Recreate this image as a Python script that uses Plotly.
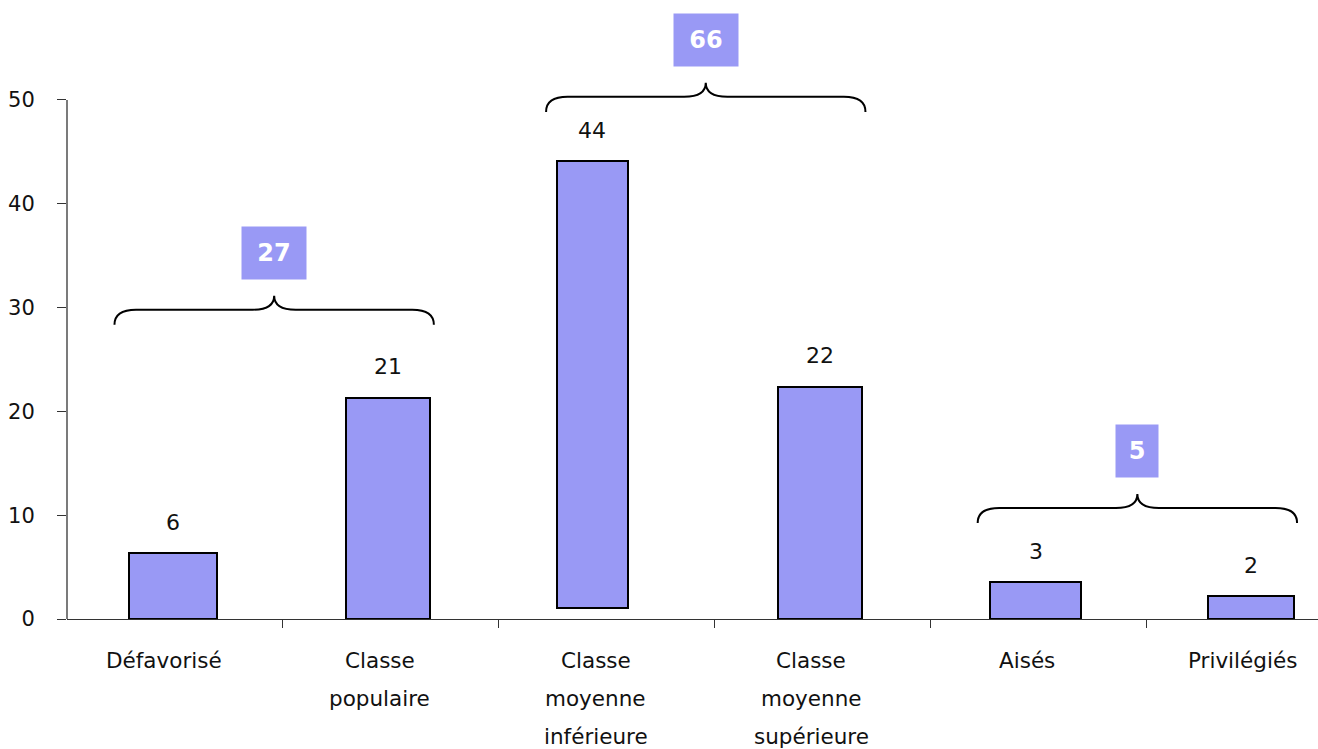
import plotly.graph_objects as go

# ---------------- data ----------------
categories = ["Défavorisé", "Classe populaire", "Classe moyenne inférieure",
              "Classe moyenne supérieure", "Aisés", "Privilégiés"]
bar_tops = [6.35, 21.3, 44.1, 22.35, 3.56, 2.2]
bar_bases = [0, 0, 1.06, 0, 0, 0]
value_labels = ["6", "21", "44", "22", "3", "2"]

group_first = [0, 2, 4]
group_last = [1, 3, 5]
group_totals = ["27", "66", "5"]

y_ticks = [0, 10, 20, 30, 40, 50]

# ---------------- style ----------------
BAR_COLOR = "#9999F5"
TEXT = "#111111"
AXIS = "#333333"
FONT = "DejaVu Sans"
bar_widths = [0.41, 0.39, 0.33, 0.39, 0.42, 0.40]
bar_offsets = [-0.214, -0.208, -0.231, -0.207, -0.221, -0.213]
brace_levels = [29.8, 50.3, 10.7]
brace_drop = 1.45   # ends below horizontal (data units)
brace_rise = 1.35   # tip above horizontal
brace_rx = 0.1      # curl radius (x units)
box_text_widths = [42, 42, 20]

x_idx = list(range(len(categories)))
lengths = [t - b for t, b in zip(bar_tops, bar_bases)]

fig = go.Figure()
fig.add_trace(go.Bar(
    x=x_idx, y=lengths, base=bar_bases,
    width=bar_widths, offset=bar_offsets,
    marker=dict(color=BAR_COLOR, line=dict(color="#000000", width=2)),
    hoverinfo="skip", showlegend=False,
))

annotations = []
# value labels above bars
for i, (t, lab) in enumerate(zip(bar_tops, value_labels)):
    cx = i + bar_offsets[i] + bar_widths[i] / 2
    annotations.append(dict(x=cx, y=t, xref="x", yref="y", text=lab,
                            showarrow=False, yanchor="middle", yshift=31,
                            font=dict(family=FONT, size=22, color=TEXT)))

# category labels (multi-line, manual spacing)
for i, cat in enumerate(categories):
    words = cat.split(" ")
    for j, w in enumerate(words):
        annotations.append(dict(x=i, y=0, xref="x", yref="paper", text=w,
                                showarrow=False, yanchor="middle",
                                xshift=-11, yshift=-41 - 38 * j,
                                font=dict(family=FONT, size=21.5, color=TEXT)))

shapes = []
# y axis line
shapes.append(dict(type="line", xref="paper", yref="y", x0=0, x1=0, y0=-0.6, y1=50,
                   line=dict(color=AXIS, width=1.3), layer="above"))

# braces with group totals
for s, e, lvl, tot, bw in zip(group_first, group_last, brace_levels, group_totals,
                              box_text_widths):
    x0 = s - 0.28
    x1 = e + 0.2
    xc = (x0 + x1) / 2
    yE = lvl - brace_drop
    yT = lvl + brace_rise
    r = brace_rx
    path = (f"M {x0},{yE} Q {x0},{lvl} {x0 + r},{lvl} L {xc - r},{lvl} "
            f"Q {xc},{lvl} {xc},{yT} Q {xc},{lvl} {xc + r},{lvl} "
            f"L {x1 - r},{lvl} Q {x1},{lvl} {x1},{yE}")
    shapes.append(dict(type="path", xref="x", yref="y", path=path,
                       line=dict(color="#000000", width=2)))
    annotations.append(dict(x=xc, y=yT, xref="x", yref="y",
                            text=f"<b>{tot}</b>", showarrow=False,
                            yanchor="bottom", yshift=16,
                            width=bw, height=30, align="center",
                            bgcolor=BAR_COLOR, borderpad=11,
                            font=dict(family=FONT, size=24, color="#FFFFFF")))

fig.update_layout(
    width=1318, height=749,
    margin=dict(l=67, r=0, t=0, b=130),
    paper_bgcolor="white", plot_bgcolor="white",
    bargap=0,
    xaxis=dict(range=[-0.5, 5.297], showgrid=False, zeroline=False,
               showline=True, linecolor=AXIS, linewidth=1.3,
               tickmode="array", tickvals=[i + 0.5 for i in range(len(categories) - 1)],
               ticks="outside", ticklen=8, tickcolor=AXIS, tickwidth=1.3,
               showticklabels=False),
    yaxis=dict(range=[0, 59.63], showgrid=False, zeroline=False, showline=False,
               tickmode="array", tickvals=y_ticks,
               ticks="outside", ticklen=9, tickcolor=AXIS, tickwidth=1.3,
               ticklabelstandoff=18,
               tickfont=dict(family=FONT, size=21, color=TEXT)),
    annotations=annotations,
    shapes=shapes,
    font=dict(family=FONT, color=TEXT),
)

fig.write_html("out.html")
